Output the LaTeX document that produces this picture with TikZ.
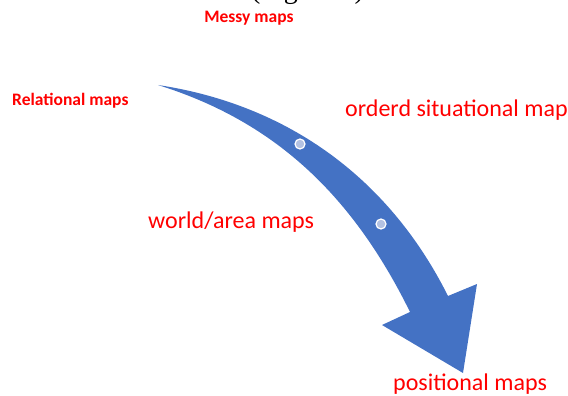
\documentclass[tikz,border=0pt]{standalone}
\usepackage{fontspec}
\setmainfont{Carlito}
\newfontfamily\capfont{Liberation Serif}
\definecolor{arrowblue}{HTML}{4472C4}
\definecolor{dotfill}{HTML}{B4C2E2}
\definecolor{mapred}{HTML}{FF0000}
\tikzset{
  smalllabel/.style={text=mapred, font=\fontsize{17.5}{20}\selectfont\bfseries, inner sep=0pt},
  biglabel/.style={text=mapred, font=\fontsize{24}{28}\selectfont, inner sep=0pt},
  stagedot/.style={fill=dotfill, draw=white, line width=1.2pt}
}
\begin{document}
\begin{tikzpicture}[x=1pt,y=-1pt]
    \useasboundingbox (0,0) rectangle (568,396);
    % cut caption at the top
    \begin{scope}
        \clip (0,0) rectangle (568,396);
        \node[font=\capfont\fontsize{28}{32}\selectfont, inner sep=0pt, anchor=base west] (caption) at (251,-1) {(Figure 1)};
    \end{scope}

    % Curved arrow
    \fill[arrowblue] (158,85) .. controls (290,105) and (390,180) .. (448,296)
        -- (477,284) -- (463,373) -- (382,325) -- (410,312)
        .. controls (350,190) and (270,120) .. (158,85) -- cycle;

    % stage points
    \filldraw[stagedot] (300,144) circle (5);
    \filldraw[stagedot] (381,224) circle (5);

    % Labels
    \node[smalllabel] (messy) at (249,18) {Messy maps};
    \node[smalllabel, anchor=west] (relational) at (12,101) {Relational maps};
    \node[biglabel, anchor=west] (orderd) at (345,110) {orderd situational map};
    \node[biglabel, anchor=west] (world) at (148,222) {world/area maps};
    \node[biglabel, anchor=west] (positional) at (393,384) {positional maps};

\end{tikzpicture}
\end{document}
